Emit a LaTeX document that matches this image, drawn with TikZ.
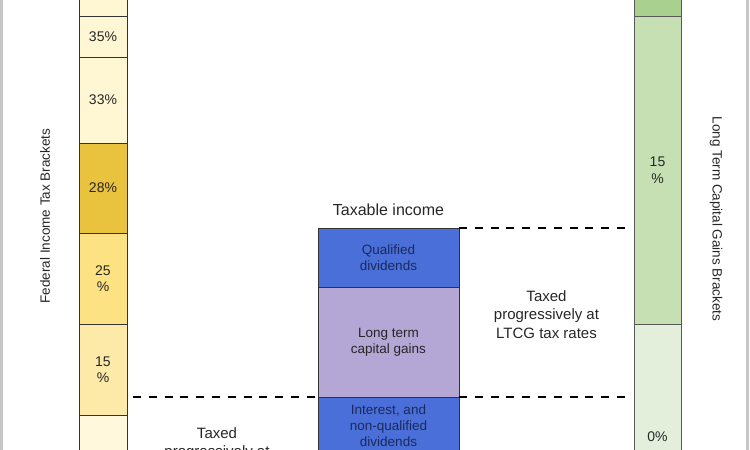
\documentclass[tikz,border=0pt]{standalone}
\usepackage{fontspec}
\setmainfont{Liberation Sans}
\usetikzlibrary{positioning}

\definecolor{yellowpale}{HTML}{FFF6D4}
\definecolor{yellowgold}{HTML}{E9C23E}
\definecolor{yellowmid}{HTML}{FDE283}
\definecolor{yellowlight}{HTML}{FDE9A8}
\definecolor{yellowbase}{HTML}{FFF8DC}
\definecolor{blueinc}{HTML}{4B6FD9}
\definecolor{lavender}{HTML}{B4A7D6}
\definecolor{greendark}{HTML}{A9D08E}
\definecolor{greenmid}{HTML}{C6E0B4}
\definecolor{greenlight}{HTML}{E3EFDA}
\definecolor{navytext}{HTML}{1B2A5C}

\begin{document}
\begin{tikzpicture}[x=1pt, y=-1pt,
  seg/.style={draw=black!80, line width=0.8pt, inner sep=0pt, outer sep=0pt,
    align=center, text=black!85, font=\fontsize{14}{16.5}\selectfont},
  lseg/.style={seg, minimum width=48pt},
  rseg/.style={seg, draw=black!65, minimum width=47pt},
  income/.style={seg, minimum width=141pt, font=\fontsize{13.5}{16}\selectfont},
  cutoff/.style={line width=2.2pt, dash pattern=on 8pt off 7.8pt},
  note/.style={inner sep=0pt, align=center, text=black!85, font=\fontsize{15}{18.5}\selectfont},
  side/.style={inner sep=0pt, text=black!85, font=\fontsize{13.5}{16}\selectfont}
]

  % Coordinates
  \def\lx{103}    % centre of the federal bar
  \def\mx{388.5}  % centre of the taxable income column
  \def\rx{657.5}  % centre of the LTCG bar

  \useasboundingbox (0,0) rectangle (750,450);

  % Page edges
  \draw[gray!45, line width=3pt] (1.5,0) -- (1.5,450);
  \draw[gray!45, line width=3pt] (747.5,0) -- (747.5,450);

  % Federal income tax brackets
  \node[lseg, fill=yellowpale, minimum height=36pt, anchor=south] (lbtop) at (\lx,16) {};
  \node[lseg, fill=yellowpale, minimum height=41pt, below=0pt of lbtop] (lb35) {35\%};
  \node[lseg, fill=yellowpale, minimum height=86pt, below=0pt of lb35] (lb33) {33\%};
  \node[lseg, fill=yellowgold, minimum height=90pt, below=0pt of lb33] (lb28) {28\%};
  \node[lseg, fill=yellowmid, minimum height=91pt, below=0pt of lb28] (lb25) {25\\\%};
  \node[lseg, fill=yellowlight, minimum height=91pt, below=0pt of lb25] (lb15) {15\\\%};
  \node[lseg, fill=yellowbase, minimum height=60pt, below=0pt of lb15] (lbbase) {};
  \node[side, rotate=90] (fedlabel) at (45,216) {Federal Income Tax Brackets};

  % Taxable income column
  \node[income, fill=blueinc, text=navytext, minimum height=59pt, anchor=north] (qd) at (\mx,228) {Qualified\\dividends};
  \node[income, fill=lavender, minimum height=110pt, below=0pt of qd] (ltcg) {Long term\\capital gains};
  \node[income, fill=blueinc, text=navytext, minimum height=58pt, below=0pt of ltcg] (intr) {Interest, and\\non-qualified\\dividends};
  \node[note, font=\fontsize{16}{19}\selectfont, above=12pt of qd] (taxable) {Taxable income};

  % Long term capital gains brackets
  \node[rseg, fill=greendark, minimum height=36pt, anchor=south] (rbtop) at (\rx,16) {};
  \node[rseg, fill=greenmid, minimum height=308pt, below=0pt of rbtop] (rb15) {15\\\%};
  \node[rseg, fill=greenlight, minimum height=226pt, below=0pt of rb15] (rb0) {0\%};
  \node[side, rotate=-90] (ltcglabel) at (716,219) {Long Term Capital Gains Brackets};

  % Cut-off lines
  \draw[cutoff, shorten >=3pt] (qd.north east) -- (qd.north east -| rb15.west);
  \draw[cutoff, shorten >=3pt] (ltcg.south east) -- (ltcg.south east -| rb15.west);
  \draw[cutoff, shorten <=6pt] (ltcg.south west -| lb15.east) -- (ltcg.south west);

  % Notes
  \node[note] (ltcgnote) at (546.5,314.5) {Taxed\\progressively at\\LTCG tax rates};
  \node[note, anchor=north] (ordnote) at (217,427.4) {Taxed\\progressively at};

\end{tikzpicture}
\end{document}
